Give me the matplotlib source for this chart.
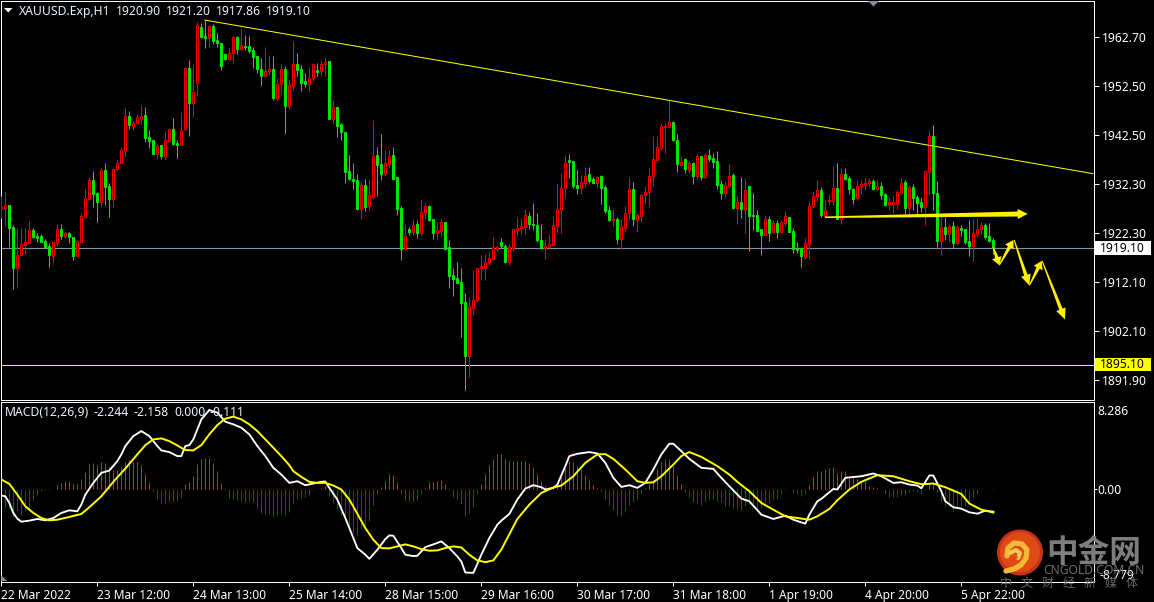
import numpy as np
import matplotlib
matplotlib.use("Agg")
import matplotlib.pyplot as plt
from matplotlib.patches import Polygon, Circle, Rectangle
from matplotlib.transforms import blended_transform_factory

W, H = 1154, 602
FONT = "Noto Sans"
CJK = "Noto Sans CJK SC"

opens = [1927.3,1927.5,1928.0,1923.4,1915.1,1917.7,1919.8,1920.2,1922.9,1921.6,
 1921.6,1920.6,1919.5,1917.6,1920.2,1923.0,1921.6,1922.2,1921.4,1917.6,
 1920.4,1925.6,1929.2,1933.2,1930.5,1928.7,1935.2,1931.9,1929.2,1935.4,
 1936.6,1939.2,1946.5,1944.4,1945.0,1945.8,1946.6,1942.0,1941.4,1938.6,
 1940.4,1937.9,1941.2,1943.8,1940.9,1940.5,1943.7,1956.4,1949.1,1953.2,
 1964.7,1962.9,1962.5,1964.9,1962.0,1961.4,1959.2,1958.2,1959.3,1962.8,
 1960.2,1960.8,1960.8,1960.0,1958.7,1956.2,1954.6,1955.6,1956.1,1950.0,
 1953.0,1956.2,1948.5,1952.6,1957.1,1956.1,1953.6,1953.0,1954.3,1955.9,
 1955.6,1957.2,1957.7,1945.8,1948.2,1944.7,1943.1,1935.0,1933.4,1933.2,
 1927.2,1932.1,1927.9,1929.7,1938.3,1936.4,1934.4,1936.5,1938.3,1933.8,
 1927.4,1919.0,1923.0,1922.5,1924.1,1922.2,1926.4,1927.8,1925.1,1922.2,
 1922.7,1924.5,1919.3,1913.5,1912.9,1912.1,1908.0,1896.8,1906.7,1908.4,
 1915.0,1915.1,1916.2,1916.9,1919.0,1920.4,1919.5,1916.3,1919.2,1922.9,
 1923.2,1923.5,1925.7,1924.1,1923.9,1920.8,1919.1,1919.4,1919.7,1923.6,
 1927.0,1931.6,1937.3,1937.1,1932.1,1931.5,1932.5,1934.4,1933.4,1932.6,
 1934.0,1931.7,1927.0,1925.0,1925.1,1921.0,1923.3,1926.3,1931.3,1925.0,
 1925.8,1930.1,1930.7,1934.0,1937.4,1939.8,1944.2,1944.1,1945.2,1941.4,
 1936.3,1937.5,1935.2,1936.7,1934.0,1938.1,1933.8,1938.3,1937.7,1937.1,
 1932.3,1930.5,1931.9,1934.2,1927.4,1928.6,1927.0,1931.9,1925.9,1925.9,
 1923.0,1921.8,1925.1,1922.4,1924.3,1922.5,1924.3,1925.5,1922.6,1919.0,
 1919.1,1917.3,1920.0,1927.8,1929.7,1931.1,1925.8,1928.8,1928.8,1931.5,
 1925.2,1934.5,1933.6,1931.3,1929.4,1931.9,1932.2,1932.6,1933.0,1931.3,
 1931.9,1930.3,1928.0,1928.3,1928.3,1930.5,1932.8,1927.4,1931.7,1929.6,
 1928.6,1927.6,1934.8,1942.2,1930.5,1920.6,1923.4,1922.0,1923.7,1920.2,
 1923.2,1923.0,1920.6,1919.5,1922.0,1923.0,1923.9,1921.6,1920.9]

closes = [1927.7,1928.0,1923.3,1915.1,1917.8,1919.9,1920.3,1922.9,1921.5,1921.3,
 1920.4,1919.3,1917.7,1920.3,1923.0,1921.6,1922.2,1921.5,1917.6,1920.6,
 1925.7,1929.4,1933.2,1930.4,1928.7,1935.2,1931.8,1929.2,1935.4,1936.6,
 1939.3,1946.5,1944.5,1945.0,1946.1,1946.4,1941.9,1941.2,1938.6,1940.2,
 1938.1,1941.5,1943.8,1940.6,1940.5,1943.6,1956.4,1949.1,1951.4,1965.1,
 1962.7,1962.5,1964.9,1961.9,1961.4,1956.7,1958.1,1959.3,1962.6,1960.2,
 1961.0,1960.6,1959.8,1958.5,1956.0,1954.7,1955.7,1956.0,1950.2,1953.1,
 1956.2,1948.5,1952.8,1957.1,1955.9,1953.2,1953.0,1954.3,1957.2,1955.5,
 1957.2,1957.6,1945.7,1948.2,1944.3,1943.0,1934.8,1933.4,1933.0,1927.2,
 1932.1,1927.6,1930.0,1938.2,1936.2,1934.4,1936.6,1938.2,1933.4,1927.2,
 1919.0,1921.7,1922.4,1924.0,1922.2,1926.5,1927.8,1924.9,1922.2,1922.8,
 1924.5,1919.0,1913.3,1912.7,1911.9,1907.8,1896.8,1907.1,1908.5,1915.1,
 1915.4,1916.2,1917.0,1919.3,1919.3,1919.5,1916.2,1919.3,1923.0,1923.2,
 1923.7,1925.9,1924.1,1923.9,1920.8,1919.1,1919.5,1919.9,1923.9,1927.1,
 1931.6,1937.0,1936.9,1931.9,1931.5,1932.7,1934.1,1932.9,1932.5,1933.9,
 1931.5,1926.8,1924.9,1925.1,1921.0,1923.7,1926.3,1931.3,1925.1,1925.9,
 1930.0,1930.8,1934.0,1937.6,1939.9,1944.3,1944.4,1945.2,1941.4,1936.5,
 1936.9,1935.4,1936.7,1934.0,1938.1,1933.8,1938.3,1937.5,1936.9,1932.1,
 1930.5,1932.1,1934.1,1927.4,1928.6,1927.2,1931.2,1925.7,1925.7,1922.6,
 1921.8,1925.2,1922.2,1924.3,1922.4,1924.5,1925.7,1922.4,1918.9,1918.7,
 1917.5,1920.1,1927.9,1929.8,1931.1,1925.9,1926.9,1929.0,1931.6,1925.2,
 1934.5,1933.4,1931.3,1929.2,1931.9,1932.3,1932.6,1932.9,1931.3,1931.9,
 1930.1,1928.0,1928.6,1928.6,1930.7,1932.5,1927.4,1931.7,1929.4,1928.4,
 1927.6,1935.0,1942.2,1930.5,1920.6,1923.4,1922.0,1923.7,1920.2,1923.4,
 1922.8,1920.4,1919.5,1922.2,1923.0,1923.9,1921.4,1920.6,1919.1]

highs = [1929.9,1930.9,1928.0,1923.8,1923.3,1923.2,1923.2,1924.7,1923.2,1922.2,
 1922.0,1921.1,1920.2,1920.4,1924.1,1924.2,1922.5,1922.5,1921.4,1920.8,
 1926.3,1931.3,1933.8,1935.0,1930.7,1935.6,1936.8,1932.5,1935.6,1937.6,
 1940.0,1948.1,1947.5,1945.4,1946.8,1948.6,1948.3,1943.5,1941.4,1940.6,
 1940.4,1943.3,1943.8,1946.0,1941.4,1947.2,1956.6,1957.9,1957.2,1965.7,
 1965.5,1966.2,1965.1,1965.3,1963.6,1961.4,1959.3,1960.7,1962.9,1962.9,
 1964.3,1963.1,1962.9,1960.7,1958.7,1958.3,1960.7,1959.0,1958.7,1954.3,
 1957.1,1956.7,1954.0,1961.8,1959.5,1956.9,1955.3,1956.3,1957.4,1957.4,
 1957.9,1958.5,1957.7,1949.7,1948.2,1944.9,1943.1,1938.3,1936.6,1934.4,
 1932.7,1933.4,1933.4,1945.5,1940.0,1942.6,1939.3,1939.3,1940.0,1933.8,
 1927.8,1923.9,1923.5,1925.1,1924.9,1929.2,1928.4,1928.0,1925.1,1924.5,
 1925.1,1924.5,1920.8,1915.0,1916.2,1915.0,1909.8,1909.0,1914.6,1915.1,
 1917.7,1917.9,1918.3,1921.4,1919.7,1921.2,1920.0,1920.0,1923.0,1925.5,
 1925.3,1927.2,1926.5,1928.4,1926.3,1924.1,1921.0,1922.0,1925.5,1932.5,
 1934.6,1938.3,1938.5,1937.1,1935.2,1934.2,1935.8,1935.8,1933.8,1933.9,
 1934.2,1932.1,1927.8,1927.2,1925.5,1925.1,1927.8,1933.8,1932.8,1926.3,
 1930.3,1931.9,1935.8,1942.2,1942.2,1944.9,1944.9,1949.7,1945.4,1942.6,
 1937.9,1937.7,1937.1,1936.9,1938.5,1938.1,1938.7,1939.5,1938.7,1939.1,
 1933.2,1933.0,1936.5,1934.6,1929.8,1933.8,1933.6,1931.9,1930.5,1927.0,
 1923.0,1925.9,1925.7,1924.9,1924.9,1924.9,1926.8,1925.5,1923.2,1920.3,
 1919.1,1921.2,1928.8,1930.9,1933.2,1931.7,1929.0,1930.4,1936.0,1936.7,
 1935.6,1935.6,1934.0,1931.5,1933.2,1933.2,1933.5,1933.7,1933.4,1933.2,
 1932.8,1930.5,1929.4,1929.8,1931.1,1933.6,1933.2,1932.1,1932.3,1930.0,
 1929.4,1935.2,1943.6,1944.5,1933.0,1925.9,1925.6,1924.2,1924.7,1923.9,
 1923.9,1923.0,1924.9,1925.1,1925.3,1924.5,1924.3,1924.3,1921.2]

lows = [1925.3,1923.6,1919.4,1910.6,1911.0,1917.4,1918.0,1920.1,1921.3,1920.4,
 1920.3,1919.1,1915.3,1916.0,1919.6,1921.1,1921.3,1920.1,1916.7,1917.4,
 1920.3,1925.6,1929.0,1927.6,1924.5,1927.6,1928.1,1925.6,1927.6,1935.2,
 1936.6,1938.0,1943.8,1943.6,1944.8,1944.7,1941.1,1939.7,1938.5,1937.6,
 1937.6,1937.3,1941.1,1940.5,1937.8,1940.4,1943.5,1942.2,1946.2,1950.5,
 1962.4,1960.5,1960.7,1961.2,1960.7,1955.9,1957.9,1957.9,1957.6,1959.2,
 1960.0,1960.1,1959.5,1956.4,1955.3,1952.8,1954.6,1954.8,1949.7,1949.7,
 1950.9,1942.9,1948.0,1951.7,1954.6,1951.5,1952.4,1951.5,1953.6,1954.6,
 1954.6,1954.7,1945.7,1944.7,1942.0,1941.4,1932.5,1933.2,1931.4,1927.0,
 1925.1,1926.8,1927.0,1929.2,1929.8,1933.2,1934.0,1935.6,1933.4,1925.9,
 1916.6,1918.7,1921.8,1921.8,1921.2,1921.8,1925.1,1924.7,1921.0,1921.0,
 1921.4,1918.7,1910.9,1909.2,1911.9,1900.7,1889.8,1892.5,1905.3,1908.0,
 1912.5,1912.5,1915.6,1916.6,1918.5,1919.1,1916.0,1915.6,1918.5,1921.6,
 1922.0,1921.8,1923.1,1922.9,1920.4,1918.9,1916.8,1918.9,1919.5,1922.2,
 1922.2,1929.4,1933.6,1931.5,1930.3,1930.3,1931.7,1932.5,1932.5,1931.5,
 1928.2,1926.3,1924.7,1923.7,1920.0,1918.9,1922.4,1925.1,1923.7,1922.4,
 1924.5,1928.2,1927.8,1931.9,1937.3,1939.3,1938.7,1943.9,1941.2,1934.8,
 1936.0,1934.6,1934.6,1932.3,1933.4,1933.2,1933.6,1937.1,1935.6,1931.3,
 1929.2,1929.4,1931.7,1927.2,1924.1,1925.3,1922.2,1918.5,1922.8,1922.4,
 1917.7,1921.8,1920.6,1922.4,1921.2,1922.4,1923.7,1922.4,1918.1,1918.1,
 1915.2,1916.8,1916.8,1927.4,1928.8,1925.6,1925.6,1928.0,1928.0,1925.2,
 1924.1,1933.2,1930.3,1928.2,1929.0,1930.4,1931.1,1931.8,1931.1,1931.1,
 1929.2,1927.8,1927.0,1926.3,1927.3,1930.3,1926.1,1925.6,1927.0,1925.9,
 1926.5,1923.9,1930.4,1927.0,1919.3,1917.7,1920.8,1920.4,1919.1,1919.9,
 1921.6,1919.9,1917.5,1916.4,1921.4,1922.1,1921.0,1920.3,1917.86]

macd_hist = [-1.97,-1.81,-1.81,-2.66,-2.12,-2.44,-2.12,-1.97,-1.11,-.60,
 -.22,-.06,-.13,0,.38,.57,.76,.76,.48,.48,.95,1.62,2.38,2.47,
 2.28,2.57,2.47,2.09,1.81,1.81,2.09,2.57,2.76,2.57,2.57,2.28,1.43,.67,
 -.19,-.95,-1.33,-1.33,-1.24,-1.14,-1.14,-.86,
 .48,.67,1.24,2.38,2.85,2.95,2.95,2.47,1.71,.57,
 -.10,-.86,-.95,-1.05,-1.24,-1.24,-1.24,-1.24,-1.90,-2.28,-2.35,-2.35,-2.69,-2.60,-2.28,-2.44,-2.22,
 -1.39,-.95,-.86,-.76,-.54,-.13,.03,.06,.25,-.70,-1.33,-1.90,-2.44,-3.01,-3.61,-4.18,-4.44,-3.80,-3.39,-3.01,
 -1.49,-.44,.16,.79,1.46,1.36,.70,-.51,-1.14,-1.27,-1.17,-1.11,-.51,.13,.63,.63,.73,.89,.51,-.13,-.76,-1.08,
 -1.46,-2.60,-2.31,-1.71,-.44,.51,1.46,2.22,2.85,3.27,3.27,2.85,2.63,2.69,2.69,2.63,2.63,2.41,2.12,1.46,.79,
 .25,.19,.32,.70,1.20,2.00,2.69,2.54,2.16,1.84,1.36,.89,.41,.10,-.16,-.92,-1.49,-1.97,-2.54,-2.54,-2.22,-1.49,
 -1.27,-1.01,-.38,.06,.48,.89,1.84,2.57,2.79,2.85,2.16,1.36,.51,-.29,-.76,-1.27,-1.33,-1.55,-1.24,-1.01,-.95,
 -1.17,-1.24,-1.59,-1.49,-1.81,-1.97,-1.97,-1.59,-1.39,-1.59,-1.81,-1.81,-1.33,-1.33,-1.01,-.92,-.44,-.06,0,
 -.25,-.44,-.63,-.44,.35,1.14,1.74,1.74,1.90,2.00,2.03,1.49,1.68,1.65,1.27,1.05,.95,.79,.79,.32,.19,.06,0,
 -.44,-.76,-.79,-.79,-.57,-.57,-.32,-.22,-.25,-.48,.03,.57,.63,-.32,-1.11,-1.59,-1.65,-2.06,-1.84,-1.59,-1.65,
 -1.46,-.76,-.51,-.10,0,0,-.10]

main_bars = [0,1,2,3,4,5,7,9,11,13,15,17,19,20,21,23,25,27,29,30,31,33,35,37,39,40,42,44,45,46,47,48,50,52,54,56,58,60,62,64,66,68,70,72,
 74,76,78,80,81,82,84,86,88,89,91,92,94,96,97,98,100,101,103,104,106,108,110,112,114,115,116,118,120,122,124,
 125,127,129,131,133,135,136,138,139,141,142,144,147,149,151,153,155,157,159,161,163,165,167,168,170,172,175,178,180,182,185,187,190,193,196,198,201,
 202,204,205,208,209,211,215,218,220,223,225,227,229,230,232,233,235,236,238,240,242,244,246,248]
main_vals = [-.63,-.70,-1.33,-2.28,-2.82,-3.11,-3.01,-2.85,-2.98,-2.76,-2.28,-2.03,-2.12,-1.49,-.54,.57,1.52,1.74,2.63,3.27,4.06,5.01,5.48,5.01,4.06,3.65,3.49,3.11,3.11,4.06,4.15,4.69,6.59,7.48,7.23,6.37,6.12,5.80,5.17,4.06,3.11,2.00,1.36,.57,
 .73,.35,.51,.67,.70,.10,-1.01,-2.76,-4.66,-5.61,-6.24,-6.63,-5.77,-4.76,-4.41,-4.44,-5.61,-6.24,-6.37,-6.34,-5.52,-5.26,-4.98,-5.61,-6.40,-6.88,-7.93,-7.96,-6.24,-4.66,-3.39,
 -3.01,-2.38,-1.01,.03,.35,.16,-.06,.10,.41,2.16,3.11,3.33,3.49,3.36,2.47,1.05,.19,.35,.10,.57,1.84,3.27,4.28,4.28,3.58,2.85,2.00,1.90,1.05,.25,-.92,-1.17,-2.44,-2.85,-2.54,-2.92,-3.30,
 -2.44,-1.17,-.95,0,-.06,1.05,1.20,1.46,1.20,.57,.63,.41,.32,.06,1.27,1.27,-.22,-1.17,-1.74,-1.87,-2.22,-2.35,-2.06,-2.16]

signal_bars = [0,2,4,6,8,10,12,14,17,20,22,25,28,31,34,36,38,40,42,44,46,48,50,52,54,56,58,60,62,64,66,68,70,72,
 73,75,77,79,81,83,85,87,89,91,93,95,97,99,101,103,105,107,109,111,113,115,117,119,121,123,125,127,
 129,132,135,138,140,143,146,149,151,153,156,159,161,163,165,168,170,172,175,179,182,184,187,190,193,196,199,
 202,204,207,209,212,215,219,223,227,230,233,236,240,242,245,248]
signal_vals = [.89,.48,-.54,-1.65,-2.28,-2.76,-2.98,-2.92,-2.66,-2.38,-1.74,-.70,.67,1.93,3.27,4.15,4.69,4.79,4.53,4.12,3.68,3.65,4.15,5.17,6.05,6.66,6.85,6.59,6.12,5.48,4.69,3.90,3.11,2.25,
 1.68,1.14,.67,.57,.57,.32,-.06,-1.01,-2.35,-3.71,-4.82,-5.61,-5.64,-5.45,-5.26,-5.45,-5.71,-5.86,-5.83,-5.61,-5.45,-5.55,-6.24,-6.78,-6.94,-6.78,-5.75,-4.30,
 -2.85,-1.49,-.38,.13,.32,1.20,2.47,3.27,3.30,2.85,1.84,.73,.57,.63,1.20,2.31,3.11,3.49,3.04,2.16,1.36,.67,-.22,-1.33,-1.97,-2.60,-2.76,
 -2.92,-2.60,-1.90,-1.08,-.06,.67,1.30,1.20,.73,.44,.51,.16,-.48,-1.39,-1.97,-2.24]

price_ticks = [1962.70,1952.50,1942.50,1932.30,1922.30,1912.10,1902.10,1891.90]
date_ticks = [0,24,48,72,96,120,144,168,192,216,240]
date_labels = ["22 Mar 2022","23 Mar 12:00","24 Mar 13:00","25 Mar 14:00","28 Mar 15:00","29 Mar 16:00",
               "30 Mar 17:00","31 Mar 18:00","1 Apr 19:00","4 Apr 20:00","5 Apr 22:00"]
header_parts = ["XAUUSD.Exp,H1", "1920.90", "1921.20", "1917.86", "1919.10"]
macd_parts = ["MACD(12,26,9)", "-2.244", "-2.158", "0.000", "-0.111"]
bid_price = 1919.10
support_price = 1895.10
trend_bars = [50.9, 272.9]
trend_prices = [1966.2, 1934.5]
flat_arrow = ((205.9, 1925.5), (256.6, 1926.2))
zigzag_arrows = [((248.0,1919.3),(249.5,1915.6)),((249.5,1915.6),(253.0,1920.8)),
                 ((253.2,1920.8),(257.0,1911.4)),((257.0,1911.4),(260.1,1916.5)),
                 ((260.2,1916.5),(265.9,1904.4))]
macd_scale = [8.286, 0.00, -8.779]
slogan = list("中文财经新媒体")

GREEN = "#04e404"
RED = "#f00000"
WHITE = "#ffffff"
YEL = "#ffff00"

plt.rcParams["font.family"] = [FONT, "DejaVu Sans"]
fig = plt.figure(figsize=(W/100, H/100), dpi=100, facecolor="black")

def rect(l, t, r, b):
    return [l/W, 1-b/H, (r-l)/W, (b-t)/H]

L, R = 1.0, 1093.5
ax = fig.add_axes(rect(L, 1, R, 399.5), facecolor="black")
ax2 = fig.add_axes(rect(L, 401.5, R, 581.5), facecolor="black")
xlim = ((L-1.33)/4, (R-1.33)/4)
for a in (ax, ax2):
    a.set_xlim(xlim)
    for s in a.spines.values():
        s.set_color(WHITE); s.set_linewidth(0.72)
ax.set_ylim(1970.34-.2064*399.5, 1970.34-.2064*1)
ax2.set_ylim(-8.779, 8.286)

# candles
o, c, h, l = map(np.array, (opens, closes, highs, lows))
x = np.arange(len(o))
up = c >= o
wick_col = [RED if u else GREEN for u in up]
ax.vlines(x, l, h, colors=wick_col, lw=0.72, zorder=3, snap=True)
ax.bar(x, np.maximum(np.abs(c-o), 0.02), bottom=np.minimum(o, c), width=0.5,
       facecolor=["black" if u else GREEN for u in up], edgecolor=wick_col, linewidth=0.72, zorder=4)

ax.axhline(bid_price, color="#8494a8", lw=0.8, zorder=2)
ax.axhline(support_price, color=YEL, lw=0.72, zorder=2)
ax.plot(trend_bars, trend_prices, color=YEL, lw=0.72, zorder=5)

PX_BAR, PX_PRICE = 4.0, 1/0.2064
def arrow(p0, p1, w0, w1, head_len, head_w):
    a0 = np.array([p0[0]*PX_BAR, p0[1]*PX_PRICE]); a1 = np.array([p1[0]*PX_BAR, p1[1]*PX_PRICE])
    d = a1-a0; d = d/np.hypot(*d); n = np.array([-d[1], d[0]])
    b = a1-d*head_len
    pts = [a0+n*w0/2, b+n*w1/2, b+n*head_w/2, a1, b-n*head_w/2, b-n*w1/2, a0-n*w0/2]
    pts = [(q[0]/PX_BAR, q[1]/PX_PRICE) for q in pts]
    ax.add_patch(Polygon(pts, closed=True, fc="#fff000", ec="none", zorder=6))
arrow(*flat_arrow, 1.5, 5.0, 10, 10)
for seg, hl, hw in zip(zigzag_arrows, (8, 8, 11, 8, 11), (10, 10, 10, 10, 10)):
    arrow(*seg, 1.0, 3.6, hl, hw)

# price scale
ax.yaxis.tick_right()
ax.set_yticks(price_ticks)
ax.set_yticklabels([f"{v:.2f}" for v in price_ticks], fontsize=8.7, color=WHITE)
ax.tick_params(axis="y", length=3.5, width=0.72, color=WHITE, pad=2.5)
ax.set_xticks([])
tr = blended_transform_factory(ax.transAxes, ax.transData)
for price, bg in ((bid_price, WHITE), (support_price, YEL)):
    ax.add_patch(Rectangle((1.0012, price-1.4), 0.0515, 2.8, transform=tr, fc=bg, ec="none", clip_on=False, zorder=8))
    ax.text(1.0055, price, f"{price:.2f}", transform=tr, fontsize=8.7, color="black", va="center", ha="left", clip_on=False, zorder=9)

# MACD pane
hist = np.array(macd_hist)
xh = np.arange(len(hist))
ax2.vlines(xh, 0, hist, colors=["#c8244a" if v > 0 else "#0f5c0a" for v in hist], lw=0.72, zorder=2, snap=True)
ax2.plot(main_bars, main_vals, color=WHITE, lw=1.35, zorder=3)
ax2.plot(signal_bars, signal_vals, color=YEL, lw=1.4, zorder=4)
ax2.yaxis.tick_right()
ax2.set_yticks([macd_scale[1]])
ax2.set_yticklabels([""])
ax2.tick_params(axis="y", length=2.5, width=0.72, color=WHITE)
ax2.set_xticks(date_ticks)
ax2.set_xticklabels(date_labels, fontsize=8.6, color=WHITE, ha="left")
ax2.tick_params(axis="x", length=3, width=0.72, color=WHITE, pad=2.1)

# overlay in pixel coordinates
ov = fig.add_axes([0, 0, 1, 1], facecolor="none", zorder=10)
ov.set_xlim(0, W); ov.set_ylim(H, 0); ov.axis("off")
TXT = "#e8f2ff"
for s, px in zip(header_parts, (19, 116, 166, 216, 266)):
    ov.text(px, 15, s, fontsize=8.8, color=TXT, va="baseline", ha="left")
for s, px in zip(macd_parts, (5, 94, 134, 174.5, 209)):
    ov.text(px, 416.5, s, fontsize=8.8, color=TXT, va="baseline", ha="left")
ov.add_patch(Polygon([(4,8),(12.5,8),(8.2,12.5)], fc=WHITE, ec="none"))
ov.add_patch(Polygon([(868,1),(879,1),(873.5,6.5)], fc="#7f8c9c", ec="none"))
ov.add_patch(Polygon([(1,575),(7,581),(1,581)], fc="#8a93a0", ec="none"))
ov.text(1097, 415.3, f"{macd_scale[0]:.3f}", fontsize=8.7, color=WHITE, va="baseline", ha="left")
ov.text(1097, 493.5, f"{macd_scale[1]:.2f}", fontsize=8.7, color=WHITE, va="baseline", ha="left")
ov.text(1100, 579, f"{macd_scale[2]:.3f}", fontsize=8.7, color=WHITE, va="baseline", ha="left")

# watermark
ov.add_patch(Circle((1020, 552.5), 23, fc="#c8321a", ec="none"))
ov.add_patch(Circle((1020, 552), 20, fc="#dd4a14", ec="none"))
sw = [(1007,556),(1008,548),(1014,543),(1022,544),(1027,550),(1026,558),(1021,565),(1014,569),(1006,571)]
ov.plot(*zip(*sw), color="#f4b838", lw=3.8, solid_capstyle="round")
ov.plot([1010,1016,1020,1018],[553,550,553,558], color="#f4c850", lw=3.0, solid_capstyle="round")
ov.plot([1011,1016,1017],[556,555,558], color="#dd5a14", lw=1.3, solid_capstyle="round")
ov.text(1093.5, 553, "中金网", family=[CJK, "DejaVu Sans"], fontweight="bold", fontsize=22.8, color="#7d7d7d", ha="center", va="center")
ov.text(1093.5, 570.5, "CNGOLD.COM.CN", fontsize=8.7, color="#6f6f6f", ha="center", va="center")
for k, ch in enumerate(slogan):
    ov.text(1006 + 21*k, 583.5, ch, family=[CJK, "DejaVu Sans"], fontsize=8.7, color="#666666", ha="center", va="center")

fig.savefig("out.png", dpi=100, facecolor="black")
